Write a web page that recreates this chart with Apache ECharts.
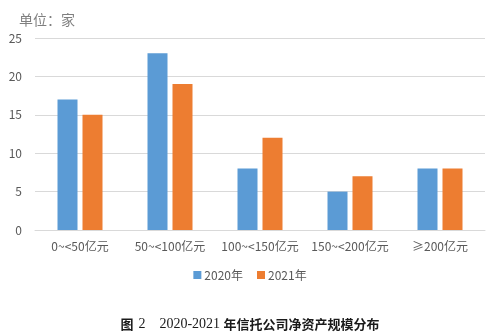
<!DOCTYPE html>
<html>
<head>
<meta charset="utf-8">
<script src="https://cdn.jsdelivr.net/npm/echarts@6/dist/echarts.min.js"></script>
<style>
  html, body { margin: 0; padding: 0; background: #fff; }
  #chart { width: 500px; height: 332px; }
</style>
</head>
<body>
<div id="chart"></div>
<script>
// Net asset size buckets of trust companies
const categories = ['0~<50亿元', '50~<100亿元', '100~<150亿元', '150~<200亿元', '≥200亿元'];
const seriesNames = ['2020年', '2021年'];
const values2020 = [17, 23, 8, 5, 8];
const values2021 = [15, 19, 12, 7, 8];
const yTicks = { min: 0, max: 25, interval: 5 };

const sansCJK = '"Microsoft YaHei", "Noto Sans CJK SC", sans-serif';
const serifFont = '"Liberation Serif", "Noto Sans CJK SC", serif';
const axisGray = '#595959';

const chart = echarts.init(document.getElementById('chart'), null, { renderer: 'canvas' });
chart.setOption({
  animation: false,
  backgroundColor: '#ffffff',
  title: [
    {
      text: '单位：家',
      left: 14, top: 8,
      textStyle: { fontFamily: sansCJK, fontSize: 14, fontWeight: 'normal', color: '#7f7f7f' }
    },
    {
      text: '{cj|图} {num|2    2020-2021 }{cj|年信托公司净资产规模分布}',
      left: 'center', top: 310,
      textStyle: {
        rich: {
          cj: { fontFamily: sansCJK, fontSize: 13, fontWeight: 'bold', color: '#1a1a1a' },
          num: { fontFamily: serifFont, fontSize: 14, fontWeight: 'normal', color: '#1a1a1a' }
        }
      }
    }
  ],
  legend: {
    data: seriesNames,
    top: 264, left: 'center',
    itemWidth: 8, itemHeight: 8, itemGap: 14,
    icon: 'rect',
    textStyle: { fontFamily: sansCJK, fontSize: 12, color: axisGray, padding: [0, 0, 0, -2] }
  },
  grid: { left: 35, right: 15, top: 38, bottom: 102 },
  xAxis: {
    type: 'category',
    data: categories,
    axisLine: { lineStyle: { color: '#d9d9d9' } },
    axisTick: { show: false },
    axisLabel: { fontFamily: sansCJK, fontSize: 12, color: axisGray, margin: 10, interval: 0 }
  },
  yAxis: {
    type: 'value',
    min: yTicks.min, max: yTicks.max, interval: yTicks.interval,
    axisLine: { show: false },
    axisTick: { show: false },
    splitLine: { lineStyle: { color: '#d9d9d9' } },
    axisLabel: { fontFamily: sansCJK, fontSize: 12, color: axisGray, margin: 13 }
  },
  series: [
    { name: seriesNames[0], type: 'bar', data: values2020, barWidth: 20, barGap: '25%', itemStyle: { color: '#5b9bd5' } },
    { name: seriesNames[1], type: 'bar', data: values2021, barWidth: 20, itemStyle: { color: '#ed7d31' } }
  ]
});
</script>
</body>
</html>
